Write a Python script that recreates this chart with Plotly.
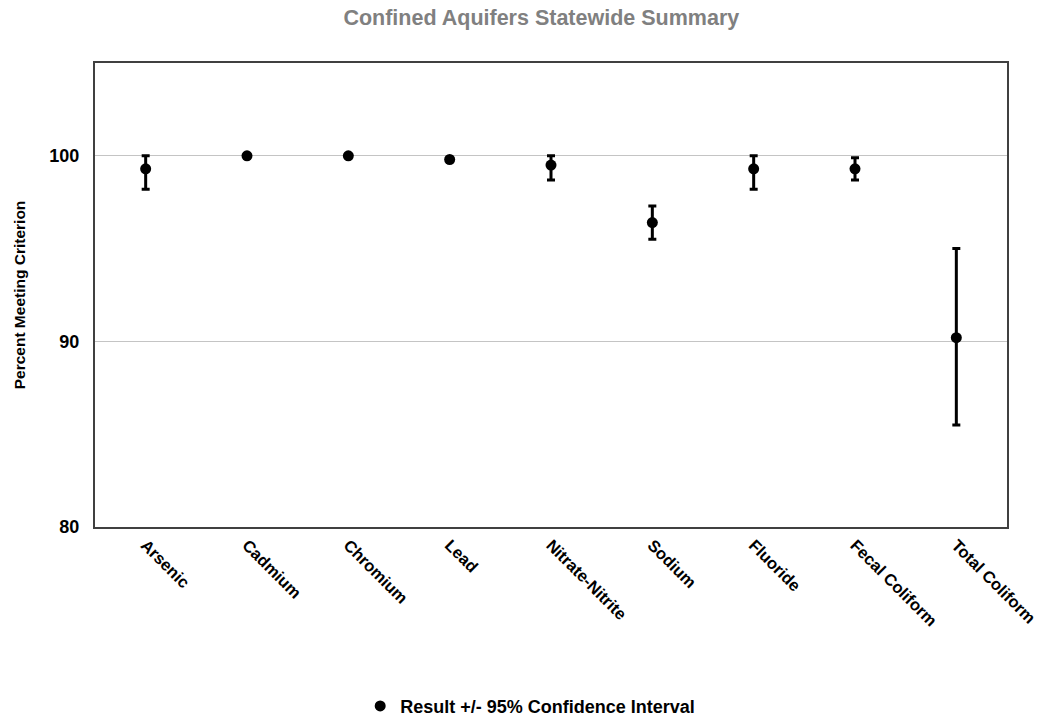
import plotly.graph_objects as go

# Analytes and their percent-meeting-criterion results
analytes = ["Arsenic", "Cadmium", "Chromium", "Lead", "Nitrate-Nitrite",
            "Sodium", "Fluoride", "Fecal Coliform", "Total Coliform"]
percent_meeting = [99.3, 100.0, 100.0, 99.8, 99.5, 96.4, 99.3, 99.3, 90.2]
# 95% confidence interval half-widths (upper / lower)
ci_upper = [0.7, 0.0, 0.0, 0.0, 0.5, 0.9, 0.7, 0.6, 4.8]
ci_lower = [1.1, 0.0, 0.0, 0.0, 0.8, 0.9, 1.1, 0.6, 4.7]

y_ticks = [80, 90, 100]

FONT = "Liberation Sans, Arial, sans-serif"

fig = go.Figure()
fig.add_trace(go.Scatter(
    x=analytes,
    y=percent_meeting,
    mode="markers",
    name="Result +/- 95% Confidence Interval",
    marker=dict(color="black", size=11),
    error_y=dict(type="data", symmetric=False, array=ci_upper,
                 arrayminus=ci_lower, color="black", thickness=3, width=4),
))

fig.update_layout(
    width=1041,
    height=717,
    margin=dict(l=95, r=34, t=63, b=190),
    paper_bgcolor="white",
    plot_bgcolor="white",
    font=dict(family=FONT, color="black", size=16, weight="bold"),
    title=dict(text="Confined Aquifers Statewide Summary",
               x=0.52, xanchor="center", y=0.975, yanchor="middle",
               font=dict(family=FONT, size=21.5, color="#808080", weight="bold")),
    showlegend=True,
    legend=dict(orientation="h", xref="container", yref="container",
                x=0.346, xanchor="left", y=0.015, yanchor="middle",
                itemwidth=30,
                font=dict(family=FONT, size=18, color="black", weight="bold")),
    xaxis=dict(
        type="category",
        range=[-0.5, 8.5],
        tickangle=45,
        automargin=False,
        showgrid=False,
        showline=True, linecolor="#404040", linewidth=2, mirror=True,
        ticks="",
        tickfont=dict(family=FONT, size=16.5, color="black", weight="bold"),
    ),
    yaxis=dict(
        range=[80, 105],
        tickvals=y_ticks,
        automargin=False,
        showgrid=True, gridcolor="#c4c4c4", gridwidth=1,
        zeroline=False,
        showline=True, linecolor="#404040", linewidth=2, mirror=True,
        ticks="",
        ticklabelstandoff=10,
        tickfont=dict(family=FONT, size=18, color="black", weight="bold"),
        title=dict(text="Percent Meeting Criterion", standoff=20,
                   font=dict(family=FONT, size=15.5, color="black", weight="bold")),
    ),
)

fig.write_html("out.html")
